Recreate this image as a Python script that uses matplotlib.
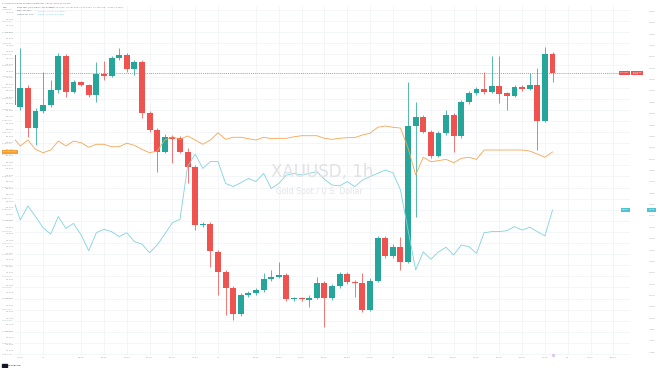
import numpy as np
import matplotlib
matplotlib.use('Agg')
from matplotlib import pyplot as plt
from matplotlib import transforms

# XAUUSD 1h candles, bar -1 is the one cut off by the left edge
bar_idx = list(range(-1, 71))
opens = [1793.95, 1789.29, 1791.00, 1787.40, 1788.90, 1789.44, 1790.79, 1793.86, 1790.64, 1791.49,
         1791.24, 1790.34, 1792.26, 1792.08, 1793.65, 1793.95, 1792.68, 1793.29, 1788.75, 1787.19,
         1785.23, 1786.59, 1786.44, 1785.23, 1783.88, 1778.60, 1778.72, 1776.23, 1774.37, 1772.93,
         1770.59, 1772.32, 1772.48, 1772.77, 1773.74, 1773.97, 1774.13, 1771.94, 1772.03, 1771.87,
         1772.08, 1773.43, 1772.03, 1773.14, 1774.22, 1773.52, 1773.43, 1770.97, 1773.61, 1777.43,
         1775.84, 1776.68, 1775.32, 1787.55, 1788.39, 1787.04, 1784.85, 1786.89, 1788.54, 1786.65,
         1789.68, 1790.50, 1790.91, 1790.61, 1791.15, 1790.50, 1790.28, 1791.09, 1790.88, 1791.24,
         1788.03, 1794.04]
highs = [1794.40, 1794.58, 1791.24, 1789.17, 1792.44, 1791.69, 1794.13, 1794.04, 1791.69, 1791.60,
         1791.33, 1793.34, 1793.43, 1793.86, 1794.55, 1794.13, 1793.50, 1793.50, 1788.90, 1787.37,
         1786.83, 1786.74, 1786.65, 1785.57, 1784.04, 1778.90, 1778.90, 1776.38, 1774.58, 1773.14,
         1772.50, 1772.68, 1772.95, 1774.28, 1774.58, 1775.32, 1774.31, 1772.14, 1772.14, 1772.32,
         1773.92, 1773.59, 1773.32, 1774.40, 1774.40, 1773.68, 1774.28, 1773.86, 1777.64, 1777.64,
         1776.92, 1777.58, 1791.54, 1789.74, 1788.54, 1787.19, 1787.10, 1788.99, 1788.72, 1789.89,
         1790.70, 1791.06, 1792.44, 1793.86, 1793.86, 1790.61, 1791.24, 1791.24, 1792.30, 1792.77,
         1794.64, 1794.22]
lows = [1789.17, 1788.99, 1786.56, 1785.84, 1788.72, 1789.26, 1790.52, 1790.19, 1790.52, 1791.15,
        1790.16, 1789.74, 1791.69, 1791.96, 1793.50, 1792.41, 1792.14, 1788.27, 1787.01, 1783.43,
        1785.12, 1784.19, 1785.12, 1782.39, 1778.18, 1778.45, 1774.87, 1772.32, 1770.52, 1770.07,
        1770.43, 1772.14, 1772.32, 1772.59, 1773.59, 1773.86, 1771.78, 1771.78, 1771.78, 1771.27,
        1771.96, 1769.41, 1771.87, 1772.95, 1773.32, 1772.17, 1770.79, 1770.88, 1773.50, 1775.66,
        1775.66, 1774.58, 1775.21, 1779.38, 1786.92, 1784.67, 1784.76, 1786.74, 1785.23, 1786.47,
        1789.53, 1790.34, 1790.43, 1790.52, 1789.59, 1788.99, 1790.16, 1790.70, 1790.79, 1785.39,
        1787.91, 1791.54]
closes = [1789.44, 1791.00, 1787.40, 1788.90, 1789.44, 1790.79, 1793.86, 1790.64, 1791.49, 1791.24,
          1790.34, 1792.21, 1792.08, 1793.65, 1793.95, 1792.68, 1793.29, 1788.75, 1787.19, 1785.23,
          1786.59, 1786.41, 1785.23, 1783.88, 1778.63, 1778.72, 1776.32, 1774.37, 1772.93, 1770.59,
          1772.32, 1772.48, 1772.77, 1773.74, 1773.97, 1774.13, 1771.96, 1772.03, 1771.94, 1772.08,
          1773.43, 1772.03, 1773.14, 1774.22, 1773.47, 1773.43, 1770.97, 1773.61, 1777.43, 1775.84,
          1776.68, 1775.32, 1787.55, 1788.39, 1787.04, 1784.85, 1786.89, 1788.54, 1786.65, 1789.68,
          1790.50, 1790.91, 1790.61, 1791.15, 1790.43, 1790.28, 1791.09, 1790.88, 1791.24, 1788.03,
          1794.04, 1792.35]

# compared symbols (orange on the left scale, cyan on the second right scale)
dxy = [90.545, 90.476, 90.522, 90.450, 90.424, 90.445, 90.514, 90.476, 90.514, 90.501,
       90.466, 90.489, 90.489, 90.470, 90.470, 90.497, 90.481, 90.450, 90.424, 90.437,
       90.522, 90.547, 90.527, 90.553, 90.522, 90.489, 90.522, 90.578, 90.527, 90.543,
       90.543, 90.532, 90.522, 90.543, 90.532, 90.535, 90.535, 90.547, 90.555, 90.555,
       90.555, 90.535, 90.527, 90.535, 90.540, 90.540, 90.561, 90.574, 90.620, 90.630,
       90.620, 90.614, 90.460, 90.253, 90.389, 90.355, 90.363, 90.373, 90.347, 90.381,
       90.389, 90.373, 90.445, 90.445, 90.445, 90.445, 90.445, 90.445, 90.437, 90.414,
       90.389, 90.430]
us10y = [1.5529, 1.5432, 1.5494, 1.5447, 1.5398, 1.5370, 1.5447, 1.5395, 1.5417, 1.5366,
         1.5297, 1.5376, 1.5391, 1.5381, 1.5359, 1.5376, 1.5337, 1.5326, 1.5288, 1.5322,
         1.5370, 1.5420, 1.5435, 1.5667, 1.5722, 1.5659, 1.5689, 1.5689, 1.5593, 1.5579,
         1.5596, 1.5615, 1.5601, 1.5637, 1.5571, 1.5593, 1.5630, 1.5637, 1.5630, 1.5637,
         1.5645, 1.5611, 1.5586, 1.5582, 1.5601, 1.5579, 1.5608, 1.5623, 1.5637, 1.5652,
         1.5640, 1.5564, 1.5388, 1.5212, 1.5292, 1.5259, 1.5292, 1.5312, 1.5278, 1.5322,
         1.5315, 1.5285, 1.5376, 1.5381, 1.5381, 1.5385, 1.5403, 1.5388, 1.5400, 1.5381,
         1.5362, 1.5476]

tick_idx = [0, 3, 8, 11, 14, 17, 20, 23, 26, 31, 34, 37, 40, 43, 46, 49,
            54, 57, 60, 63, 66, 69, 72, 75, 78]
tick_lbl = ["21:00", "21", "06:00", "09:00", "12:00", "15:00", "18:00", "21:00", "22",
            "06:00", "09:00", "12:00", "15:00", "18:00", "21:00", "23",
            "06:00", "09:00", "12:00", "15:00", "18:00", "21:00", "26", "03:00", "06:00"]

UP = '#26a69a'
DOWN = '#ef5350'
ORANGE = '#f5a553'
CYAN = '#7fd3de'
GRID = '#f2f4f9'
TXT = '#a3a6ae'
FS = 1.7

fig = plt.figure(figsize=(6.6, 3.68), dpi=100)
ax = fig.add_axes([15 / 660, 13 / 368, 615 / 660, 349 / 368])
ax.set_xlim(-0.697, 80.19)
ax.set_ylim(1766.919, 1798.360)

# grid
for t in tick_idx:
    ax.axvline(t, color=GRID, lw=0.6, zorder=0)
for p in np.arange(1767, 1799, 1.0):
    ax.axhline(p, color=GRID, lw=0.6, zorder=0)

# candles
x = np.array(bar_idx)
o = np.array(opens)
c = np.array(closes)
col = np.where(c >= o, UP, DOWN)
ax.vlines(x, lows, highs, colors=col, lw=0.55, zorder=2)
ax.bar(x, np.maximum(np.abs(c - o), 0.07), 0.78, bottom=np.minimum(o, c),
       color=col, lw=0, zorder=3)

# last price line
ax.axhline(closes[-1], color=DOWN, lw=0.5, ls=(0, (1.5, 1.5)), zorder=1)

ax.yaxis.tick_right()
ax.set_yticks(np.arange(1767, 1799, 1.0))
ax.set_yticklabels(['{:,.2f}'.format(v) for v in np.arange(1767, 1799, 1.0)])
ax.set_xticks(tick_idx)
ax.set_xticklabels(tick_lbl)
ax.tick_params(length=0, labelsize=FS, labelcolor=TXT, pad=2.2)
ax.tick_params(axis='x', pad=1.2)
for s in ax.spines.values():
    s.set_visible(False)

# orange compare series, left scale
axl = ax.twinx()
axl.set_ylim(88.8665, 91.5538)
axl.plot(bar_idx, dxy, color=ORANGE, lw=0.6, zorder=4)
axl.yaxis.tick_left()
lt = np.arange(88.90, 91.51, 0.05)
axl.set_yticks(lt)
axl.set_yticklabels(['{:.3f}'.format(v) for v in lt])
axl.tick_params(length=0, labelsize=FS, labelcolor=TXT, pad=0.5)
for s in axl.spines.values():
    s.set_visible(False)

# cyan compare series, second right scale
axr = ax.twinx()
axr.set_ylim(1.4838, 1.63736)
axr.plot(bar_idx, us10y, color=CYAN, lw=0.6, zorder=4)
rt = np.arange(1.485, 1.6351, 0.005)
axr.set_yticks(rt)
axr.set_yticklabels(['{:.3f}'.format(v) for v in rt])
axr.spines['right'].set_position(('outward', 12))
axr.tick_params(length=0, labelsize=FS, labelcolor=TXT, pad=1.5)
for s in axr.spines.values():
    s.set_visible(False)

# price scale labels
bl = transforms.blended_transform_factory(ax.transAxes, ax.transData)
ax.text(0.9985, closes[-1], 'XAUUSD', transform=bl, ha='right', va='center', fontsize=1.5,
        color='white', bbox=dict(boxstyle='square,pad=0.6', fc=DOWN, ec='none'), zorder=6)
ax.text(1.004, closes[-1], '{:,.2f}\n05:05'.format(closes[-1]), transform=bl, ha='left',
        va='center', fontsize=1.5, color='white', linespacing=1.1, clip_on=False,
        bbox=dict(boxstyle='square,pad=0.5', fc=DOWN, ec='none'), zorder=6)
br = transforms.blended_transform_factory(axr.transAxes, axr.transData)
axr.text(0.9985, us10y[-1], 'US10Y', transform=br, ha='right', va='center', fontsize=1.5,
         color='white', bbox=dict(boxstyle='square,pad=0.6', fc='#4fc3cf', ec='none'), zorder=6)
axr.text(1.030, us10y[-1], '{:.3f}'.format(us10y[-1]), transform=br, ha='left', va='center',
         fontsize=1.5, color='white', clip_on=False,
         bbox=dict(boxstyle='square,pad=0.6', fc='#4fc3cf', ec='none'), zorder=6)
blf = transforms.blended_transform_factory(axl.transAxes, axl.transData)
axl.text(-0.019, dxy[-1], '{:.3f}  DXY'.format(dxy[-1]), transform=blf, ha='left',
         va='center', fontsize=1.5, color='white', clip_on=False,
         bbox=dict(boxstyle='square,pad=0.6', fc='#f7a030', ec='none'), zorder=6)

# current bar marker on time axis
ax.plot([bar_idx[-1]], [1766.919], marker='o', ms=2.5, color='#d9c8f0', mec='none',
        clip_on=False, zorder=6)

# watermark
fig.text(322 / 660, 1 - 172 / 368, 'XAUUSD, 1h', ha='center', va='center', fontsize=12,
         color='#e1e2e5')
fig.text(319 / 660, 1 - 191.5 / 368, 'Gold Spot / U.S. Dollar', ha='center', va='center',
         fontsize=5.6, color='#e3e4e7')

# header and legend
fig.text(2 / 660, 1 - 3 / 368, 'XAUUSD published on TradingView.com, Apr 23, 2021 21:07 UTC',
         fontsize=1.5, color='#6a6d78', va='center')
fig.text(3 / 660, 1 - 7.5 / 368, 'USD', fontsize=1.5, color='#6a6d78', va='center')
fig.text(17 / 660, 1 - 7.5 / 368, 'Gold Spot / U.S. Dollar, 1h, OANDA', fontsize=1.5,
         color='#4a4d58', va='center')
fig.text(52 / 660, 1 - 7.5 / 368,
         'O{:,.3f}  H{:,.3f}  L{:,.3f}  C{:,.3f}  -1.690 (-0.09%)'.format(
             opens[-1], highs[-1], lows[-1], closes[-1]),
         fontsize=1.5, color=DOWN, va='center')
fig.text(17 / 660, 1 - 10.8 / 368, 'DXY, 1h, TVC', fontsize=1.5, color='#4a4d58', va='center')
fig.text(38 / 660, 1 - 10.8 / 368, '{:.3f}  +0.041 (+0.05%)'.format(dxy[-1]), fontsize=1.5,
         color=ORANGE, va='center')
fig.text(17 / 660, 1 - 14.2 / 368, 'US10Y, 1h, TVC', fontsize=1.5, color='#4a4d58', va='center')
fig.text(38 / 660, 1 - 14.2 / 368, '{:.3f}  +0.011 (+0.74%)'.format(us10y[-1]), fontsize=1.5,
         color='#4fc3cf', va='center')

# logo
fig.add_artist(plt.Rectangle((2 / 660, 1 - 366.5 / 368), 5 / 660, 3 / 368,
                             transform=fig.transFigure, color='#131722'))
fig.text(8 / 660, 1 - 365 / 368, 'TradingView', fontsize=1.6, color='#131722', va='center')

fig.savefig('out.png', dpi=100)
